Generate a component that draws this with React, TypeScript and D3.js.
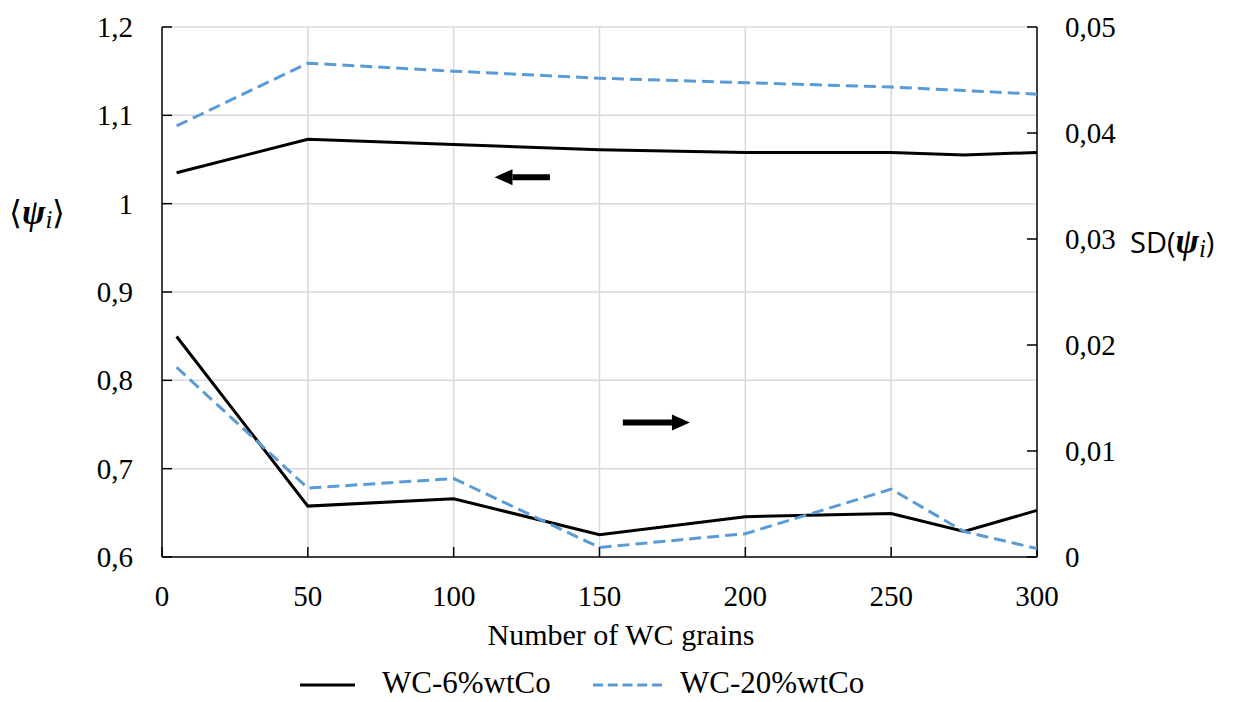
import React from "react";
import * as d3 from "d3";

const grains = [5, 50, 100, 150, 200, 250, 275, 300];
const meanWC6 = [1.035, 1.073, 1.067, 1.061, 1.058, 1.058, 1.055, 1.058];
const meanWC20 = [1.088, 1.159, 1.150, 1.142, 1.137, 1.132, 1.128, 1.124];
const sdWC6 = [0.0208, 0.0048, 0.0055, 0.0021, 0.0038, 0.0041, 0.0024, 0.0044];
const sdWC20 = [0.0179, 0.0065, 0.0074, 0.0009, 0.0022, 0.0064, 0.0024, 0.0008];
const xTicks = [0, 50, 100, 150, 200, 250, 300];
const leftTicks = [0.6, 0.7, 0.8, 0.9, 1.0, 1.1, 1.2];
const rightTicks = [0, 0.01, 0.02, 0.03, 0.04, 0.05];
const seriesNames = ["WC-6%wtCo", "WC-20%wtCo"];

const W = 1238, H = 702;
const L = 162, R = 1037, T = 27, B = 557;
const BLUE = "#5B9BD5";
const SERIF = "'Liberation Serif', 'Times New Roman', serif";
const SANS = "'Open Sans', 'DejaVu Sans', sans-serif";

const fmt = (v: number) => {
  const s = v === 0 ? "0" : (Math.round(v * 1000) / 1000).toString();
  return s.replace(".", ",");
};

export default function App() {
  const x = d3.scaleLinear().domain([0, 300]).range([L, R]);
  const yL = d3.scaleLinear().domain([0.6, 1.2]).range([B, T]);
  const yR = d3.scaleLinear().domain([0, 0.05]).range([B, T]);
  const lineL = d3.line<number>().x((_, i) => x(grains[i])).y((d) => yL(d));
  const lineR = d3.line<number>().x((_, i) => x(grains[i])).y((d) => yR(d));

  const arrow = (x1: number, x2: number, y: number, dir: number) => {
    const hl = 18 * dir;
    return (
      <g>
        <line x1={x1} y1={y} x2={x2 - hl} y2={y} stroke="#000" strokeWidth={6} />
        <path d={`M${x2},${y} L${x2 - hl},${y - 8} L${x2 - hl},${y + 8} Z`} fill="#000" />
      </g>
    );
  };

  return (
    <svg width={W} height={H} style={{ position: "absolute", left: 0, top: 0, background: "#fff" }}>
      <rect width={W} height={H} fill="#fff" />
      {xTicks.slice(1, -1).map((t) => (
        <line key={"gx" + t} x1={x(t)} x2={x(t)} y1={T} y2={B} stroke="#d9d9d9" strokeWidth={1.5} />
      ))}
      {leftTicks.slice(1).map((t) => (
        <line key={"gy" + t} x1={L} x2={R} y1={yL(t)} y2={yL(t)} stroke="#d9d9d9" strokeWidth={1.5} />
      ))}
      <line x1={L} x2={L} y1={T} y2={B} stroke="#000" strokeWidth={1.5} />
      <line x1={R} x2={R} y1={T} y2={B} stroke="#000" strokeWidth={1.5} />
      <line x1={L} x2={R} y1={B} y2={B} stroke="#000" strokeWidth={1.5} />
      {leftTicks.map((t) => (
        <g key={"lt" + t}>
          <line x1={L} x2={L + 10} y1={yL(t)} y2={yL(t)} stroke="#000" strokeWidth={1.5} />
          <text x={L - 29} y={yL(t) + 10} textAnchor="end" fontFamily={SERIF} fontSize={29} fill="#000">
            {fmt(t)}
          </text>
        </g>
      ))}
      {rightTicks.map((t) => (
        <g key={"rt" + t}>
          <line x1={R - 10} x2={R} y1={yR(t)} y2={yR(t)} stroke="#000" strokeWidth={1.5} />
          <text x={R + 28} y={yR(t) + 10} textAnchor="start" fontFamily={SERIF} fontSize={29} fill="#000">
            {fmt(t)}
          </text>
        </g>
      ))}
      {xTicks.map((t) => (
        <g key={"xt" + t}>
          <line x1={x(t)} x2={x(t)} y1={B - 10} y2={B} stroke="#000" strokeWidth={1.5} />
          <text x={x(t)} y={B + 49} textAnchor="middle" fontFamily={SERIF} fontSize={29} fill="#000">
            {t}
          </text>
        </g>
      ))}
      <path d={lineL(meanWC6) || ""} fill="none" stroke="#000" strokeWidth={3} />
      <path d={lineL(meanWC20) || ""} fill="none" stroke={BLUE} strokeWidth={3} strokeDasharray="12 6" />
      <path d={lineR(sdWC6) || ""} fill="none" stroke="#000" strokeWidth={3} />
      <path d={lineR(sdWC20) || ""} fill="none" stroke={BLUE} strokeWidth={3} strokeDasharray="12 6" />
      {arrow(x(133), x(114), yL(1.03), -1)}
      {arrow(x(158), x(181), yR(0.0127), 1)}
      <text x={621} y={645} textAnchor="middle" fontFamily={SERIF} fontSize={30} fill="#000">
        Number of WC grains
      </text>
      <text x={9} y={224} fontFamily={SERIF} fontSize={33} fill="#000">
        ⟨<tspan fontWeight="bold" fontStyle="italic" fontSize={35}>ψ</tspan>
        <tspan fontStyle="italic" fontSize={25} dy={4}>i</tspan>
        <tspan dy={-4}>⟩</tspan>
      </text>
      <text x={1130} y={253} fontFamily={SANS} fontSize={29} fill="#000">
        SD(<tspan fontFamily={SERIF} fontWeight="bold" fontStyle="italic" fontSize={35}>ψ</tspan>
        <tspan fontFamily={SERIF} fontStyle="italic" fontSize={25} dy={4}>i</tspan>
        <tspan dy={-4}>)</tspan>
      </text>
      <line x1={300} x2={355} y1={685} y2={685} stroke="#000" strokeWidth={3} />
      <text x={382} y={693} fontFamily={SERIF} fontSize={31} fill="#000">{seriesNames[0]}</text>
      <line x1={593} x2={662} y1={685} y2={685} stroke={BLUE} strokeWidth={3} strokeDasharray="10 4.75" />
      <text x={680} y={693} fontFamily={SERIF} fontSize={31} fill="#000">{seriesNames[1]}</text>
    </svg>
  );
}
